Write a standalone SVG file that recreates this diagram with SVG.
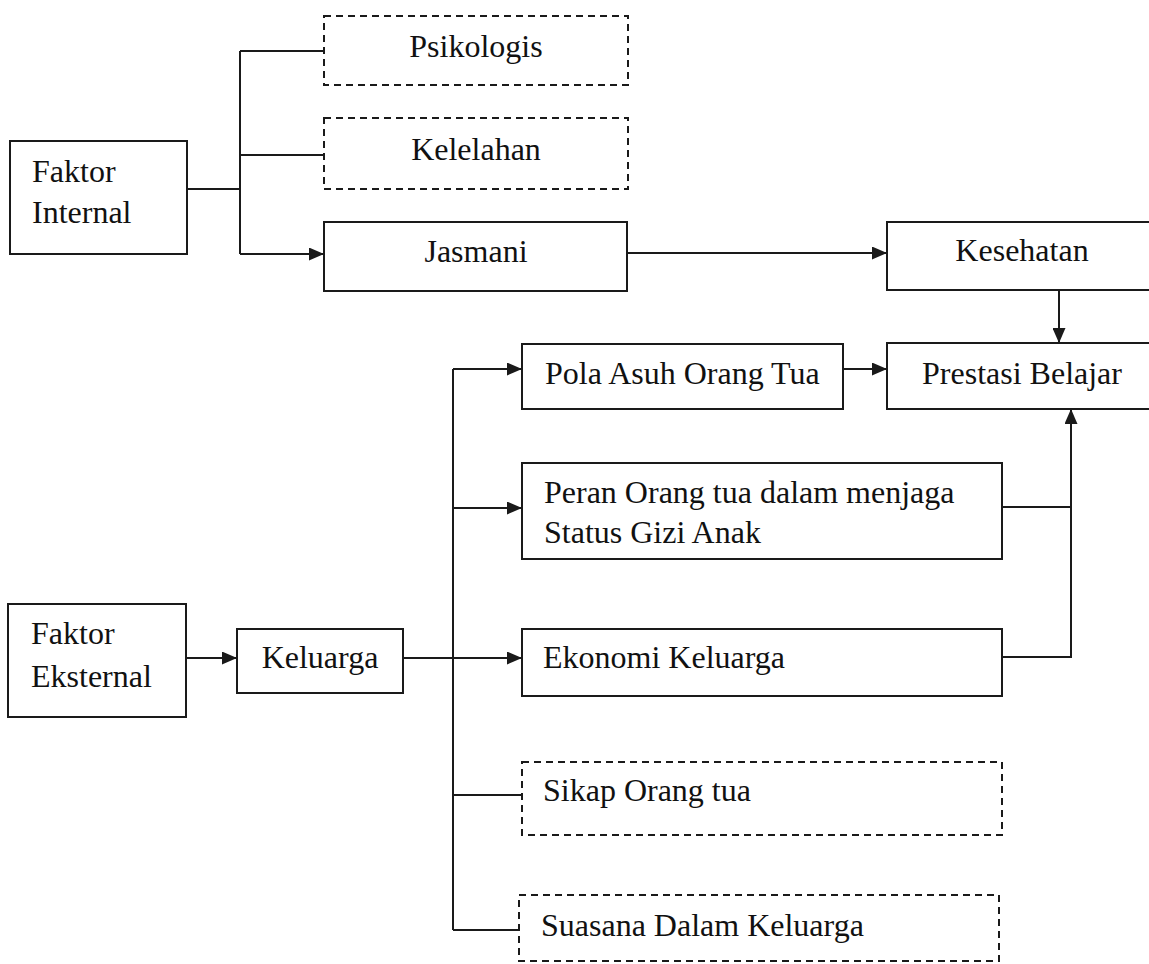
<svg xmlns="http://www.w3.org/2000/svg" width="1149" height="964" viewBox="0 0 1149 964">
<defs>
<marker id="arr" markerUnits="userSpaceOnUse" markerWidth="15" markerHeight="13" refX="15" refY="6.5" orient="auto">
<path d="M0,0 L15,6.5 L0,13 z" fill="#1a1a1a"/>
</marker>
<style>
.box{fill:#fff;stroke:#1a1a1a;stroke-width:2}
.dash{fill:#fff;stroke:#1a1a1a;stroke-width:2;stroke-dasharray:7 5}
.ln{fill:none;stroke:#1a1a1a;stroke-width:2}
.t{font-family:"Liberation Serif","Times New Roman",serif;font-size:32px;fill:#111}
.c{text-anchor:middle}
</style>
</defs>
<rect width="1149" height="964" fill="#fff"/>
<g id="connectors">
<path class="ln" d="M187,189 H240"/>
<path class="ln" d="M240,51 V254"/>
<path class="ln" d="M240,51 H324"/>
<path class="ln" d="M240,155 H324"/>
<path class="ln" d="M240,254 H324" marker-end="url(#arr)"/>
<path class="ln" d="M627,253 H887" marker-end="url(#arr)"/>
<path class="ln" d="M1059,290 V343" marker-end="url(#arr)"/>
<path class="ln" d="M843,369 H887" marker-end="url(#arr)"/>
<path class="ln" d="M1002,507 H1071"/>
<path class="ln" d="M1002,657 H1071 V409" marker-end="url(#arr)"/>
<path class="ln" d="M186,658 H237" marker-end="url(#arr)"/>
<path class="ln" d="M403,658 H522" marker-end="url(#arr)"/>
<path class="ln" d="M453,369 V930"/>
<path class="ln" d="M453,369 H522" marker-end="url(#arr)"/>
<path class="ln" d="M453,508 H522" marker-end="url(#arr)"/>
<path class="ln" d="M453,795 H522"/>
<path class="ln" d="M453,930 H519"/>
</g>
<g id="faktor-internal">
<rect class="box" x="10" y="141" width="177" height="113"/>
<text class="t" x="32" y="182">Faktor</text>
<text class="t" x="32" y="223">Internal</text>
</g>
<g id="psikologis">
<rect class="dash" x="324" y="16" width="304" height="69"/>
<text class="t c" x="476" y="57">Psikologis</text>
</g>
<g id="kelelahan">
<rect class="dash" x="324" y="118" width="304" height="71"/>
<text class="t c" x="476" y="160">Kelelahan</text>
</g>
<g id="jasmani">
<rect class="box" x="324" y="222" width="303" height="69"/>
<text class="t c" x="476" y="262">Jasmani</text>
</g>
<g id="kesehatan">
<rect class="box" x="887" y="222" width="270" height="68"/>
<text class="t c" x="1022" y="261">Kesehatan</text>
</g>
<g id="pola-asuh">
<rect class="box" x="522" y="344" width="321" height="65"/>
<text class="t" x="545" y="384">Pola Asuh Orang Tua</text>
</g>
<g id="prestasi-belajar">
<rect class="box" x="887" y="343" width="270" height="66"/>
<text class="t c" x="1022" y="384">Prestasi Belajar</text>
</g>
<g id="peran">
<rect class="box" x="522" y="463" width="480" height="96"/>
<text class="t" x="544" y="503">Peran Orang tua dalam menjaga</text>
<text class="t" x="544" y="543">Status Gizi Anak</text>
</g>
<g id="faktor-eksternal">
<rect class="box" x="8" y="604" width="178" height="113"/>
<text class="t" x="31" y="644">Faktor</text>
<text class="t" x="31" y="687">Eksternal</text>
</g>
<g id="keluarga">
<rect class="box" x="237" y="629" width="166" height="64"/>
<text class="t c" x="320" y="668">Keluarga</text>
</g>
<g id="ekonomi">
<rect class="box" x="522" y="629" width="480" height="67"/>
<text class="t" x="543" y="668">Ekonomi Keluarga</text>
</g>
<g id="sikap">
<rect class="dash" x="522" y="762" width="480" height="73"/>
<text class="t" x="543" y="801">Sikap Orang tua</text>
</g>
<g id="suasana">
<rect class="dash" x="519" y="895" width="480" height="66"/>
<text class="t" x="541" y="936">Suasana Dalam Keluarga</text>
</g>
</svg>
